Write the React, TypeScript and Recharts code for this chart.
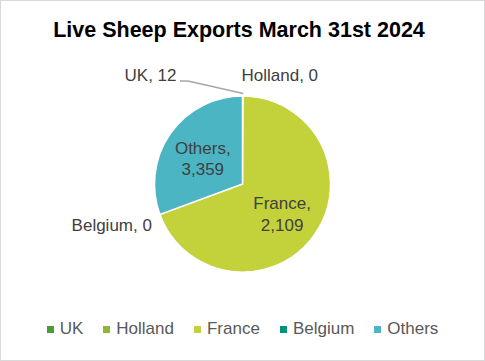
import { PieChart, Pie, Cell, Legend } from "recharts";

const categories = ["UK", "Holland", "France", "Belgium", "Others"];
// data labels exactly as printed on the original chart
const labelValues = ["12", "0", "2,109", "0", "3,359"];
// slice sizes as drawn in the original (France fills ~69% of the pie there,
// even though its printed label is smaller than Others)
const sliceValues = [12, 0, 7600, 0, 3359];
const colors = ["#4e9a36", "#8cb933", "#c3d13a", "#00957a", "#4bb5c4"];

const data = categories.map((name, i) => ({ name, value: sliceValues[i] }));

const FONT = '"Liberation Sans", Arial, sans-serif';
const RAD = Math.PI / 180;

function renderLabel(props: any) {
  const { cx, cy, midAngle, outerRadius, index } = props;
  const text = `${categories[index]}, ${labelValues[index]}`;
  const style = { fontFamily: FONT, fontSize: 17, fill: "#404040" };

  if (index === 2 || index === 4) {
    const r = outerRadius * 0.55;
    const x = cx + r * Math.cos(-midAngle * RAD);
    const y = cy + r * Math.sin(-midAngle * RAD);
    return (
      <text key={index} x={x} y={y} textAnchor="middle" {...style}>
        <tspan x={x} dy={-2.5}>{categories[index]},</tspan>
        <tspan x={x} dy={21.5}>{labelValues[index]}</tspan>
      </text>
    );
  }
  if (index === 0) {
    // UK sits in a hair-thin slice at the top, pulled out with a leader line
    const top = cy - outerRadius;
    return (
      <g key={index}>
        <polyline
          points={`${cx + 0.8},${top - 2.5} ${cx - 54.5},${top - 15} ${cx - 62.5},${top - 15}`}
          fill="none"
          stroke="#a6a6a6"
          strokeWidth={1.5}
        />
        <text x={cx - 66} y={top - 15} textAnchor="end" {...style}>{text}</text>
      </g>
    );
  }
  if (index === 1) {
    return (
      <text key={index} x={cx - 1} y={cy - outerRadius - 15} textAnchor="start" {...style}>
        {text}
      </text>
    );
  }
  // Belgium, zero slice on the lower left
  const px = cx + outerRadius * Math.cos(-midAngle * RAD);
  const py = cy + outerRadius * Math.sin(-midAngle * RAD);
  return (
    <text key={index} x={px - 8} y={py + 17} textAnchor="end" {...style}>
      {text}
    </text>
  );
}

const renderLegend = () => (
  <div
    style={{
      display: "flex",
      justifyContent: "center",
      gap: 20,
      fontFamily: FONT,
      fontSize: 17,
      color: "#595959",
    }}
  >
    {categories.map((c, i) => (
      <span key={c} style={{ display: "flex", alignItems: "center" }}>
        <span style={{ width: 7, height: 7, background: colors[i], marginRight: 6, display: "inline-block" }} />
        {c}
      </span>
    ))}
  </div>
);

export default function App() {
  return (
    <div
      style={{
        position: "absolute",
        left: 0,
        top: 0,
        width: 485,
        height: 361,
        background: "#fff",
        outline: "1px solid #d9d9d9",
        outlineOffset: -1,
      }}
    >
      <svg width={485} height={50} style={{ position: "absolute", left: 0, top: 0 }}>
        <text x={239} y={37} textAnchor="middle" fontFamily={FONT} fontSize={21.5} fontWeight="bold" fill="#000">
          Live Sheep Exports March 31st 2024
        </text>
      </svg>
      <PieChart width={485} height={361} margin={{ top: 0, right: 0, bottom: 0, left: 0 }}>
        <Pie
          data={data}
          dataKey="value"
          nameKey="name"
          cx={242.5}
          cy={184}
          outerRadius={88}
          startAngle={90}
          endAngle={-270}
          stroke="#fff"
          strokeWidth={1.5}
          label={renderLabel}
          labelLine={false}
          isAnimationActive={false}
        >
          {data.map((d, i) => (
            <Cell key={d.name} fill={colors[i]} />
          ))}
        </Pie>
        <Legend verticalAlign="bottom" content={renderLegend} wrapperStyle={{ bottom: 22 }} />
      </PieChart>
    </div>
  );
}
